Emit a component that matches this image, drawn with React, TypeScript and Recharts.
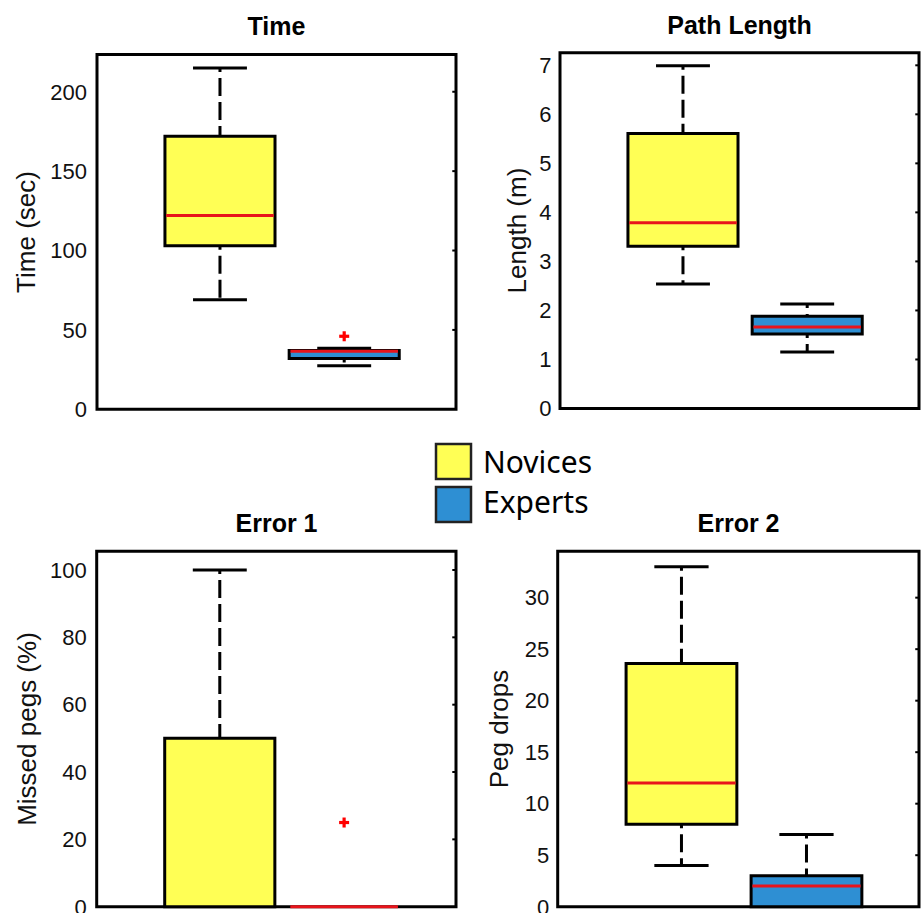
import React from 'react';
import {
  ComposedChart,
  XAxis,
  YAxis,
  ReferenceArea,
  ReferenceLine,
  Scatter,
} from 'recharts';

// ---------- data ----------
const groups = ['Novices', 'Experts'];
const groupPositions = [1, 2];
const groupFills = ['#FFFF55', '#2E8FD3'];

// each stats array: [lower whisker, Q1, median, Q3, upper whisker]
const timeNovices = [69, 103, 122, 172, 215];
const timeExperts = [27.5, 32, 36.5, 37, 38.5];
const timeOutliers = [{ x: 2, y: 46 }];
const timeTicks = [0, 50, 100, 150, 200];

const lengthNovices = [2.54, 3.31, 3.79, 5.61, 6.99];
const lengthExperts = [1.15, 1.52, 1.66, 1.88, 2.13];
const lengthOutliers: { x: number; y: number }[] = [];
const lengthTicks = [0, 1, 2, 3, 4, 5, 6, 7];

const error1Novices = [0, 0, null, 50, 100];
const error1Experts = [0, 0, 0, 0, 0];
const error1Outliers = [{ x: 2, y: 25 }];
const error1Ticks = [0, 20, 40, 60, 80, 100];

const error2Novices = [4, 8, 12, 23.6, 33];
const error2Experts = [0, 0, 2, 3, 7];
const error2Outliers: { x: number; y: number }[] = [];
const error2Ticks = [0, 5, 10, 15, 20, 25, 30];

const titles = ['Time', 'Path Length', 'Error 1', 'Error 2'];
const yLabels = ['Time (sec)', 'Length (m)', 'Missed pegs (%)', 'Peg drops'];

// ---------- styles / layout ----------
const X_DOMAIN: [number, number] = [0.01, 2.9];
const BOX_HALF = 0.443;
const CAP_HALF = 0.217;
const TICK_LEN = 0.03;
const RED = '#E8141B';
const FONT = "'Liberation Sans', Arial, Helvetica, sans-serif";

type Stats = (number | null)[];

interface PanelDef {
  left: number;
  top: number;
  width: number;
  height: number;
  yWidth: number;
  mTop: number;
  mBottom: number;
  mRight: number;
  max: number;
  ticks: number[];
  stats: Stats[];
  outliers: { x: number; y: number }[];
  tickMargin: number;
  titleX: number;
  titleY: number;
  labelX: number;
  labelY: number;
}

const panels: PanelDef[] = [
  {
    left: 0, top: 0, width: 460, height: 420, yWidth: 97, mTop: 54.6, mBottom: 10.7, mRight: 4,
    max: 223.4, ticks: timeTicks, stats: [timeNovices, timeExperts], outliers: timeOutliers, tickMargin: 10,
    titleX: 276.5, titleY: 35, labelX: 34.5, labelY: 232,
  },
  {
    left: 460, top: 0, width: 461, height: 420, yWidth: 100, mTop: 52.8, mBottom: 11.5, mRight: 2,
    max: 7.255, ticks: lengthTicks, stats: [lengthNovices, lengthExperts], outliers: lengthOutliers, tickMargin: 8.5,
    titleX: 739.5, titleY: 33.5, labelX: 526, labelY: 230.5,
  },
  {
    left: 0, top: 500, width: 460, height: 413, yWidth: 96.7, mTop: 51.3, mBottom: 6.3, mRight: 4,
    max: 105.55, ticks: error1Ticks, stats: [error1Novices, error1Experts], outliers: error1Outliers, tickMargin: 10,
    titleX: 276.5, titleY: 531.5, labelX: 36, labelY: 729,
  },
  {
    left: 460, top: 500, width: 461, height: 413, yWidth: 97.7, mTop: 51.3, mBottom: 6.3, mRight: 2,
    max: 34.5, ticks: error2Ticks, stats: [error2Novices, error2Experts], outliers: error2Outliers, tickMargin: 8.5,
    titleX: 738.5, titleY: 531.5, labelX: 508, labelY: 729,
  },
];

const PlusMark = (props: any) => {
  const { cx, cy } = props;
  if (cx == null || cy == null) return <g />;
  return (
    <g>
      <rect x={cx - 5} y={cy - 1.6} width={10} height={3.2} fill="#FF0000" />
      <rect x={cx - 1.6} y={cy - 5} width={3.2} height={10} fill="#FF0000" />
    </g>
  );
};

function frameElements(p: PanelDef) {
  const els: React.ReactNode[] = [];
  els.push(
    <ReferenceArea
      key="frame"
      x1={X_DOMAIN[0]}
      x2={X_DOMAIN[1]}
      y1={0}
      y2={p.max}
      fill="none"
      stroke="#000"
      strokeWidth={3}
      ifOverflow="visible"
    />
  );
  p.ticks.forEach((t) => {
    if (t <= 0) return;
    els.push(
      <ReferenceLine
        key={`rt-${t}`}
        segment={[{ x: X_DOMAIN[1] - TICK_LEN, y: t }, { x: X_DOMAIN[1], y: t }]}
        stroke="#000"
        strokeWidth={2}
        ifOverflow="visible"
      />
    );
  });
  return els;
}

function boxElements(stats: Stats[]) {
  const areas: React.ReactNode[] = [];
  const lines: React.ReactNode[] = [];
  const medians: React.ReactNode[] = [];
  stats.forEach((s, i) => {
    const pos = groupPositions[i];
    const [low, q1, med, q3, high] = s as number[];
    areas.push(
      <ReferenceArea
        key={`box-${i}`}
        x1={pos - BOX_HALF}
        x2={pos + BOX_HALF}
        y1={q1}
        y2={q3}
        fill={groupFills[i]}
        fillOpacity={1}
        stroke="#000"
        strokeWidth={3}
        ifOverflow="visible"
      />
    );
    if (high > q3) {
      lines.push(
        <ReferenceLine
          key={`wu-${i}`}
          segment={[{ x: pos, y: high }, { x: pos, y: q3 }]}
          stroke="#000"
          strokeWidth={3}
          strokeDasharray="18 6"
          strokeDashoffset={14}
          ifOverflow="visible"
        />
      );
      lines.push(
        <ReferenceLine
          key={`cu-${i}`}
          segment={[{ x: pos - CAP_HALF, y: high }, { x: pos + CAP_HALF, y: high }]}
          stroke="#000"
          strokeWidth={3}
          ifOverflow="visible"
        />
      );
    }
    if (q1 > low) {
      lines.push(
        <ReferenceLine
          key={`wl-${i}`}
          segment={[{ x: pos, y: q1 }, { x: pos, y: low }]}
          stroke="#000"
          strokeWidth={3}
          strokeDasharray="18 6"
          strokeDashoffset={14}
          ifOverflow="visible"
        />
      );
      lines.push(
        <ReferenceLine
          key={`cl-${i}`}
          segment={[{ x: pos - CAP_HALF, y: low }, { x: pos + CAP_HALF, y: low }]}
          stroke="#000"
          strokeWidth={3}
          ifOverflow="visible"
        />
      );
    }
    if (med != null) {
      medians.push(
        <ReferenceLine
          key={`md-${i}`}
          segment={[{ x: pos - BOX_HALF + 0.01, y: med }, { x: pos + BOX_HALF - 0.01, y: med }]}
          stroke={RED}
          strokeWidth={3}
          ifOverflow="visible"
        />
      );
    }
  });
  return [...areas, ...lines, ...medians];
}

function Panel({ p }: { p: PanelDef }) {
  return (
    <div style={{ position: 'absolute', left: p.left, top: p.top, width: p.width, height: p.height }}>
      <ComposedChart
        width={p.width}
        height={p.height}
        margin={{ top: p.mTop, right: p.mRight, bottom: p.mBottom, left: 0 }}
      >
        <XAxis
          type="number"
          dataKey="x"
          domain={X_DOMAIN}
          allowDataOverflow
          height={0}
          tick={false}
          tickLine={false}
          axisLine={false}
        />
        <YAxis
          type="number"
          domain={[0, p.max]}
          allowDataOverflow
          ticks={p.ticks}
          interval={0}
          width={p.yWidth}
          tickLine={false}
          tickSize={0}
          tickMargin={p.tickMargin}
          axisLine={false}
          tick={{ fontSize: 22, fill: '#111', fontFamily: FONT }}
        />
        {frameElements(p)}
        {boxElements(p.stats)}
        <Scatter
          data={p.outliers}
          dataKey="y"
          shape={PlusMark}
          isAnimationActive={false}
          legendType="none"
        />
      </ComposedChart>
    </div>
  );
}

export default function App() {
  return (
    <div
      style={{
        position: 'absolute',
        left: 0,
        top: 0,
        width: 921,
        height: 913,
        background: '#fff',
        overflow: 'hidden',
      }}
    >
      {panels.map((p, i) => (
        <Panel key={i} p={p} />
      ))}
      <svg
        width={921}
        height={913}
        style={{ position: 'absolute', left: 0, top: 0, pointerEvents: 'none' }}
      >
        {panels.map((p, i) => (
          <g key={i}>
            <text
              x={p.titleX}
              y={p.titleY}
              textAnchor="middle"
              fontFamily={FONT}
              fontWeight="bold"
              fontSize={25}
              fill="#000"
            >
              {titles[i]}
            </text>
            <text
              x={p.labelX}
              y={p.labelY}
              textAnchor="middle"
              fontFamily={FONT}
              fontSize={26}
              fill="#111"
              transform={`rotate(-90 ${p.labelX} ${p.labelY})`}
            >
              {yLabels[i]}
            </text>
          </g>
        ))}
        {groups.map((g, i) => (
          <g key={g}>
            <rect
              x={436}
              y={444 + i * 43}
              width={35}
              height={35}
              fill={groupFills[i]}
              stroke="#222"
              strokeWidth={2.5}
            />
            <text
              x={483}
              y={473 + i * 40}
              fontFamily="'Noto Sans', 'Open Sans', sans-serif"
              fontSize={30}
              fill="#000"
            >
              {g}
            </text>
          </g>
        ))}
      </svg>
    </div>
  );
}
